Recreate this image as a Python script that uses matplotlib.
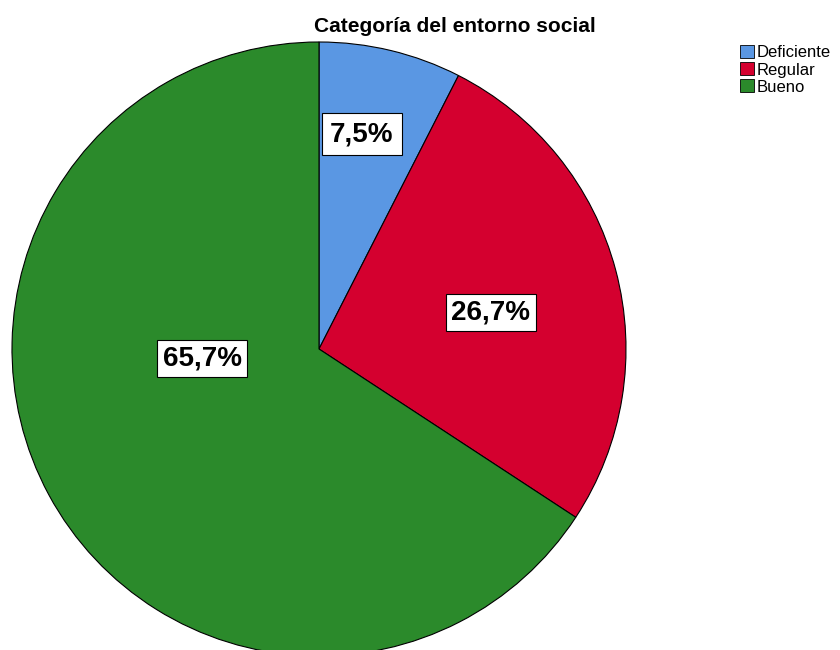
import matplotlib.pyplot as plt
from matplotlib.patches import Patch

plt.rcParams['font.family'] = ['Liberation Sans', 'DejaVu Sans']

categorias = ['Deficiente', 'Regular', 'Bueno']
porcentajes = [7.5, 26.7, 65.7]
etiquetas = ['7,5%', '26,7%', '65,7%']
colores = ['#5a97e3', '#d4002f', '#2b8a2b']

# pie geometry in pixel units of the figure
W, H = 840, 650
cx, cy, R = 319, H - 349, 307
# label offsets as fractions of the radius, and box padding per label
lab_pos = [(0.14, 0.70), (0.56, 0.12), (-0.38, -0.03)]
lab_pad = [0.3, 0.2, 0.2]

fig = plt.figure(figsize=(8.4, 6.5), dpi=100)
ax = fig.add_axes([0, 0, 1, 1])
ax.set_xlim(0, W)
ax.set_ylim(0, H)
ax.set_aspect('equal')
ax.axis('off')

ax.pie(porcentajes, colors=colores, startangle=90, counterclock=False,
       center=(cx, cy), radius=R, normalize=True,
       wedgeprops=dict(edgecolor='black', linewidth=0.8))
ax.set_xlim(0, W)
ax.set_ylim(0, H)

for et, (fx, fy), pad in zip(etiquetas, lab_pos, lab_pad):
    ax.text(cx + fx * R, cy + fy * R, et, ha='center', va='center',
            fontsize=20, fontweight='bold', color='black',
            bbox=dict(boxstyle='square,pad=%s' % pad, fc='white', ec='black', lw=0.8))

fig.text(455 / W, 1 - 27 / H, 'Categoría del entorno social', ha='center', va='center',
         fontsize=15, fontweight='bold')

handles = [Patch(facecolor=c, edgecolor='black', linewidth=0.6) for c in colores]
fig.legend(handles, categorias, loc='upper left', bbox_to_anchor=(740 / W, 1 - 45 / H),
           frameon=False, fontsize=12, handlelength=0.85, handleheight=0.85,
           handletextpad=0.15, labelspacing=0.1, borderpad=0, borderaxespad=0)

fig.savefig('out.png', dpi=100)
